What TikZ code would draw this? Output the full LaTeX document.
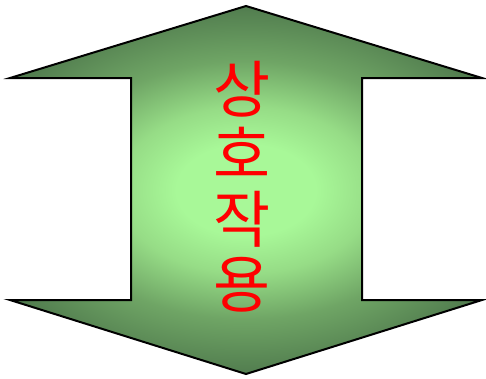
\documentclass[tikz,border=0pt]{standalone}
\usepackage{fontspec}
\usepackage{tikz}
\newfontfamily\hangul{Noto Sans CJK KR}
\definecolor{leaf}{HTML}{A8F898}
\definecolor{sage}{HTML}{96DC86}
\definecolor{fern}{HTML}{6FA565}
\definecolor{moss}{HTML}{4E784C}
\pgfdeclareradialshading{glow}{\pgfpoint{0bp}{0bp}}{color(0bp)=(leaf); color(6bp)=(leaf); color(11bp)=(sage); color(17bp)=(fern); color(25bp)=(moss); color(50bp)=(moss)}

\begin{document}
\begin{tikzpicture}[x=1pt, y=-1pt]
        \useasboundingbox (0,0) rectangle (486,378);

        % Doppelpfeil: Verlauf
        \begin{scope}
            \clip (246,6) -- (482,78) -- (362,78) -- (362,300) -- (482,300)
                -- (246,374) -- (10,300) -- (131,300) -- (131,78) -- (10,78) -- cycle;
            \fill[moss] (0,0) rectangle (486,378);
            \shade[shading=glow] (246,190) ellipse [x radius=290, y radius=190];
        \end{scope}

        % Doppelpfeil: Umriss
        \draw[line width=2pt, line join=miter]
            (246,6) -- (482,78) -- (362,78) -- (362,300) -- (482,300)
            -- (246,374) -- (10,300) -- (131,300) -- (131,78) -- (10,78) -- cycle;

        % Beschriftung
        \node[text=red, align=center, font=\hangul\fontsize{62}{65}\selectfont] (label) at (242,187) {상\\호\\작\\용};
    \end{tikzpicture}
\end{document}
